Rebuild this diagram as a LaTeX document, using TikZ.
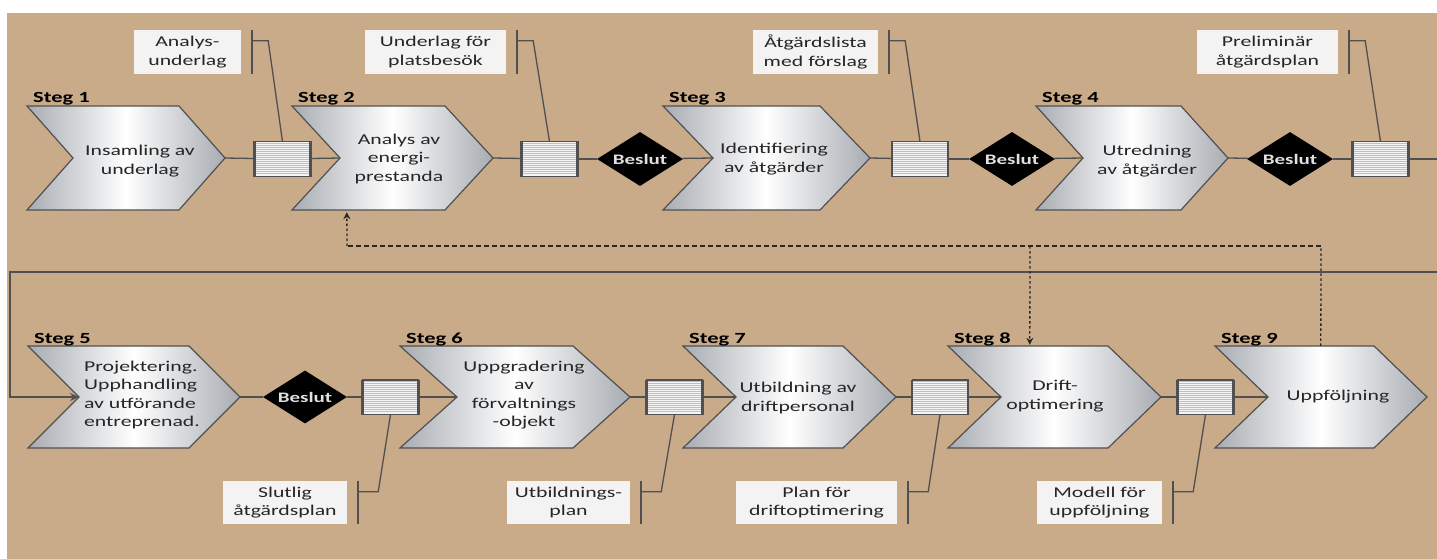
\documentclass[tikz,border=0pt]{standalone}
\usepackage{fontspec}
\setmainfont{Carlito}[FakeStretch=1.45]
\usetikzlibrary{shapes.geometric,arrows.meta,calc}
\definecolor{bgtan}{RGB}{201,170,137}
\definecolor{lncol}{RGB}{80,80,80}
\definecolor{chevdark}{RGB}{168,172,178}
\definecolor{lblfill}{RGB}{243,243,243}
\definecolor{txtcol}{RGB}{38,38,38}
\tikzset{
 conn/.style={draw=lncol, line width=1.3pt},
 bar/.style={draw=lncol, line width=2.2pt},
 fbv/.style={draw=black!85, line width=1.3pt, dash pattern=on 2.5pt off 2.5pt},
 fbh/.style={draw=black!85, line width=1.3pt, dash pattern=on 5pt off 3pt},
 chevshade/.style={left color=chevdark, right color=chevdark, middle color=white, draw=lncol, line width=1.2pt},
 chevtext/.style={text=txtcol, font=\fontsize{15}{18.5}\selectfont, align=center, inner sep=0pt},
 steglabel/.style={font=\fontsize{15.5}{18}\selectfont\bfseries, text=black, inner sep=0pt, anchor=base west},
 lblbox/.style={fill=lblfill, text=txtcol, font=\fontsize{15}{18.5}\selectfont, align=center, inner sep=0pt, minimum height=44pt},
 docnode/.style={draw=lncol, line width=1pt, fill=white!96!black, minimum width=55pt, minimum height=34pt, inner sep=0pt},
 stripe/.style={draw=black!25, line width=0.5pt},
 beslut/.style={diamond, aspect=1.6, fill=black, minimum width=86pt, minimum height=54pt, inner sep=0pt},
 besluttext/.style={text=white!88!black, font=\fontsize{14.5}{16}\selectfont\bfseries, inner sep=0pt},
}
% chevron: name, left, tip, ycenter, half height, depth, number
\newcommand\mychev[7]{%
  \shadedraw[chevshade] (#2,{#4-#5}) -- ({#3-#6},{#4-#5}) -- (#3,#4) -- ({#3-#6},{#4+#5}) -- (#2,{#4+#5}) -- ({#2+#6},#4) -- cycle;
  \node[inner sep=0pt, minimum width={#3-#2}, minimum height={2*#5}] (#1) at ({(#2+#3)/2},#4) {};
  \coordinate (#1in) at ({#2+#6},#4);
  \coordinate (#1out) at (#3,#4);
  \node[steglabel] (#1lab) at ({#2+6},{#4-#5-3}) {Steg #7};
}
% document: name, cx, cy
\newcommand\mydoc[3]{%
  \node[docnode] (#1) at (#2,#3) {};
  \foreach \k in {2,4,...,32} \draw[stripe] ($(#1.north west)+(1,\k)$) -- ($(#1.north east)+(-1,\k)$);
  \draw[lncol, line width=1pt] (#1.north west) rectangle (#1.south east);
  \draw[lncol, line width=2.4pt] (#1.north west) -- (#1.south west) (#1.north east) -- (#1.south east);
}
% labels: name, cx, width, text, doc
\newcommand\toplabel[5]{%
  \node[lblbox, minimum width=#3] (#1) at (#2,52) {#4};
  \draw[bar] ($(#1.north east)+(11,0)$) -- ($(#1.south east)+(11,0)$);
  \draw[conn] ($(#1.north east)+(11,11)$) -- ++(16,0) -- (#5.north);
}
\newcommand\botlabel[5]{%
  \node[lblbox, minimum width=#3, minimum height=43pt] (#1) at (#2,502.5) {#4};
  \draw[bar] ($(#1.north east)+(11,0)$) -- ($(#1.south east)+(11,0)$);
  \draw[conn] ($(#1.north east)+(11,11)$) -- ++(20,0) -- (#5.south);
}
\begin{document}
\begin{tikzpicture}[x=1pt,y=-1pt]
\path[use as bounding box] (0,0) rectangle (1437,559);
\fill[white] (0,0) rectangle (1437,559);
\fill[bgtan] (7,13) rectangle (1437,559);

% ---------- top row ----------
\mychev{s1}{27}{225}{158}{52}{46}{1}
\mychev{s2}{292}{493}{158}{52}{48}{2}
\mychev{s3}{663}{870}{158}{52}{50}{3}
\mychev{s4}{1036}{1228}{158}{52}{47}{4}
\node[chevtext] (s1t) at (140,161) {Insamling av\\underlag};
\node[chevtext] (s2t) at (399,159) {Analys av\\energi-\\prestanda};
\node[chevtext] (s3t) at (774,159) {Identifiering\\av åtgärder};
\node[chevtext] (s4t) at (1147,161) {Utredning\\av åtgärder};

\mydoc{doc1}{282.5}{159}
\mydoc{doc2}{549.5}{159}
\mydoc{doc3}{920}{159}
\mydoc{doc4}{1380.5}{159}

\node[beslut] (d1) at (640,159) {};
\node[besluttext] (d1t) at (d1) {Beslut};
\node[beslut] (d2) at (1012,159) {};
\node[besluttext] (d2t) at (d2) {Beslut};
\node[beslut] (d3) at (1290,159) {};
\node[besluttext] (d3t) at (d3) {Beslut};

\draw[conn] (s1out) -- (doc1);
\draw[conn] (doc1) -- (s2in);
\draw[conn] (s2out) -- (doc2);
\draw[conn] (doc2) -- (d1);
\draw[conn] (d1) -- (s3in);
\draw[conn] (s3out) -- (doc3);
\draw[conn] (doc3) -- (d2);
\draw[conn] (d2) -- (s4in);
\draw[conn] (s4out) -- (d3);
\draw[conn] (d3) -- (doc4);

\toplabel{l1}{187.5}{107pt}{Analys-\\underlag}{doc1}
\toplabel{l2}{435.5}{141pt}{Underlag för\\platsbesök}{doc2}
\toplabel{l3}{815.5}{125pt}{Åtgärdslista\\med förslag}{doc3}
\toplabel{l4}{1267.5}{141pt}{Preliminär\\åtgärdsplan}{doc4}

% ---------- bottom row ----------
\mychev{s5}{28}{240}{397}{51}{51}{5}
\mychev{s6}{400}{630}{397}{51}{57}{6}
\mychev{s7}{683}{896}{397}{51}{53}{7}
\mychev{s8}{948}{1161}{397}{51}{53}{8}
\mychev{s9}{1215}{1427}{397}{51}{53}{9}
\node[chevtext, align=left] (s5t) at (142,395) {Projektering.\\Upphandling\\av utförande\\entreprenad.};
\node[chevtext] (s6t) at (524,395) {Uppgradering\\av\\förvaltnings\\-objekt};
\node[chevtext] (s7t) at (798,398) {Utbildning av\\driftpersonal};
\node[chevtext] (s8t) at (1055,396) {Drift-\\optimering};
\node[chevtext] (s9t) at (1338,397) {Uppföljning};

\mydoc{doc5}{390.5}{397}
\mydoc{doc6}{674.5}{397}
\mydoc{doc7}{940}{397}
\mydoc{doc8}{1205.5}{397}

\node[beslut, minimum width=84pt, minimum height=53pt] (d4) at (305,397) {};
\node[besluttext] (d4t) at (d4) {Beslut};

\draw[conn] (s5out) -- (d4);
\draw[conn] (d4) -- (doc5);
\draw[conn] (doc5) -- (s6in);
\draw[conn] (s6out) -- (doc6);
\draw[conn] (doc6) -- (s7in);
\draw[conn] (s7out) -- (doc7);
\draw[conn] (doc7) -- (s8in);
\draw[conn] (s8out) -- (doc8);
\draw[conn] (doc8) -- (s9in);

\botlabel{l5}{285}{124pt}{Slutlig\\åtgärdsplan}{doc5}
\botlabel{l6}{568.5}{123pt}{Utbildnings-\\plan}{doc6}
\botlabel{l7}{816.5}{161pt}{Plan för\\driftoptimering}{doc7}
\botlabel{l8}{1099.5}{125pt}{Modell för\\uppföljning}{doc8}

% ---------- wrap-around connector ----------
\coordinate (wr1) at (1460,159);
\coordinate (wr2) at (1460,272);
\coordinate (wr3) at (10,272);
\draw[conn, -{Stealth[length=9pt, width=8pt]}] (doc4) -- (wr1) -- (wr2) -- (wr3) |- (s5in);

% ---------- feedback (dashed) ----------
\coordinate (fb9) at ($(s9.north west)+(106,0)$);
\coordinate (fbr) at (1321,246);
\coordinate (fbl) at (347,246);
\coordinate (fb2) at ($(s2.south west)+(55,2)$);
\coordinate (fbm) at (1030,246);
\coordinate (fb8) at ($(s8.north west)+(82,-1)$);
\draw[fbv] (fb9) -- (fbr);
\draw[fbh] (fbr) -- (fbl);
\draw[fbv, -{Stealth[length=7pt, width=7pt]}] (fbl) -- (fb2);
\draw[fbv, -{Stealth[length=7pt, width=7pt]}] (fbm) -- (fb8);
\end{tikzpicture}
\end{document}
